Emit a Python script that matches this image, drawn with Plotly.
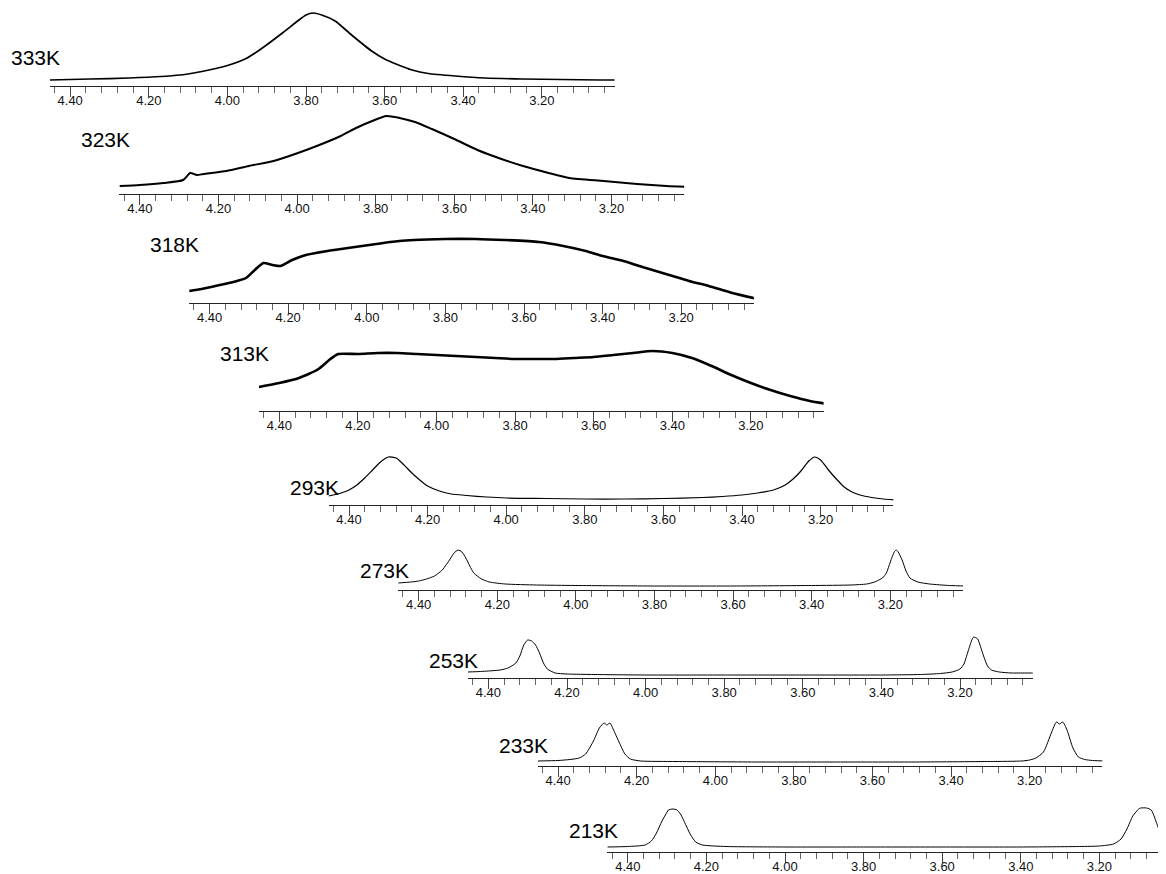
import plotly.graph_objects as go

# ---------------- data ----------------
temps = ["333K", "323K", "318K", "313K", "293K", "273K", "253K", "233K", "213K"]

ppm_333 = [4.452, 4.35, 4.25, 4.168, 4.10, 4.065, 4.004, 3.95, 3.911, 3.86, 3.818, 3.80, 3.782, 3.76,
           3.726, 3.684, 3.633, 3.60, 3.571, 3.53, 3.489, 3.42, 3.345, 3.25, 3.15, 3.05, 3.005]
int_333 = [6, 7, 8, 9.5, 12, 14.5, 20, 28, 38, 53, 66, 71, 73, 71,
           65, 51, 35, 27, 22, 16, 12.5, 10, 8, 7, 6.5, 6, 6]

ppm_323 = [4.452, 4.40, 4.34, 4.29, 4.272, 4.255, 4.238, 4.18, 4.123, 4.06, 4.005, 3.95, 3.889, 3.85,
           3.809, 3.773, 3.739, 3.70, 3.657, 3.60, 3.541, 3.48, 3.425, 3.36, 3.307, 3.22, 3.135, 3.06, 3.005]
int_323 = [8, 9, 11, 14, 21, 19, 20, 23, 28, 33, 40, 48, 58, 66,
           73, 78, 76, 72, 65, 55, 44, 35, 28, 21, 16, 13, 10, 8, 7]

ppm_318 = [4.452, 4.42, 4.374, 4.33, 4.307, 4.285, 4.263, 4.24, 4.22, 4.19, 4.155, 4.10, 4.048, 3.994, 3.94,
           3.88, 3.80, 3.724, 3.65, 3.562, 3.50, 3.443, 3.40, 3.347, 3.29, 3.239, 3.18, 3.13, 3.07, 3.005]
int_318 = [12, 14, 18, 22, 25, 33, 40, 38, 37, 43, 48, 52, 55, 58, 61,
           63, 64, 64, 63, 61, 57, 52, 47, 42, 35, 29, 22, 17, 10, 4]

ppm_313 = [4.452, 4.40, 4.35, 4.30, 4.27, 4.25, 4.20, 4.15, 4.10, 4.05, 4.00, 3.95, 3.90, 3.85, 3.80, 3.75,
           3.70, 3.65, 3.60, 3.55, 3.50, 3.45, 3.40, 3.35, 3.30, 3.25, 3.20, 3.15, 3.10, 3.05, 3.005]
int_313 = [24, 28, 33, 42, 52, 57, 57, 58, 58, 57, 56, 55, 54, 53, 52, 52,
           52, 53, 54, 56, 58, 60, 58, 53, 45, 36, 28, 21, 15, 10, 7]

ppm_293 = [4.452, 4.42, 4.40, 4.38, 4.36, 4.34, 4.32, 4.30, 4.28, 4.26, 4.24, 4.22, 4.20, 4.17, 4.14, 4.10,
           4.05, 4.00, 3.90, 3.80, 3.70, 3.60, 3.50, 3.45, 3.40, 3.36, 3.32, 3.29, 3.27, 3.25, 3.23, 3.215,
           3.20, 3.18, 3.16, 3.14, 3.12, 3.10, 3.07, 3.04, 3.005]
int_293 = [9, 12, 15, 20, 27, 35, 43, 48, 47, 40, 32, 25, 19, 14, 11, 9.5,
           8, 7, 6.5, 6, 6, 6.5, 7.5, 8.5, 10, 12, 15, 20, 26, 34, 44, 48,
           45, 35, 26, 18, 13, 10, 7.5, 6, 5]

ppm_273 = [4.452, 4.42, 4.40, 4.38, 4.36, 4.34, 4.32, 4.31, 4.30, 4.29, 4.28, 4.27, 4.26, 4.24, 4.22, 4.18,
           4.10, 4.00, 3.80, 3.60, 3.40, 3.30, 3.26, 3.24, 3.22, 3.21, 3.20, 3.19, 3.185, 3.18, 3.17, 3.16,
           3.15, 3.13, 3.10, 3.05, 3.005]
int_273 = [7, 8, 9, 11, 14, 20, 31, 37, 40, 38, 32, 24, 17, 11, 8, 6,
           5, 4.5, 4, 4, 4.5, 5, 6, 8, 12, 17, 28, 38, 40, 38, 30, 19,
           12, 8, 6, 4.5, 4]

ppm_253 = [4.452, 4.42, 4.40, 4.37, 4.35, 4.33, 4.32, 4.31, 4.30, 4.29, 4.28, 4.27, 4.26, 4.25, 4.23, 4.20,
           4.00, 3.80, 3.60, 3.40, 3.30, 3.25, 3.22, 3.20, 3.19, 3.18, 3.17, 3.165, 3.155, 3.15, 3.14, 3.13,
           3.12, 3.10, 3.07, 3.04, 3.005]
int_253 = [6, 6.5, 7, 8, 10, 15, 22, 33, 38, 37, 33, 25, 15, 9, 5, 4,
           3, 3, 3, 3, 3.5, 4.5, 6, 9, 14, 26, 38, 41, 39, 34, 22, 12,
           8, 6, 5, 5, 5]

ppm_233 = [4.452, 4.40, 4.37, 4.346, 4.33, 4.31, 4.295, 4.283, 4.276, 4.268, 4.26, 4.245, 4.23, 4.216, 4.19,
           4.10, 3.90, 3.70, 3.50, 3.30, 3.22, 3.20, 3.184, 3.165, 3.145, 3.132, 3.124, 3.116, 3.105, 3.09,
           3.076, 3.06, 3.04, 3.005]
int_233 = [5, 5.5, 6.5, 8, 12, 25, 38, 43, 41, 43, 37, 24, 12, 7, 5,
           4.5, 4, 4, 4, 4.5, 5, 6, 8, 14, 33, 44, 42, 44, 36, 18,
           9, 6.5, 5.5, 5]

ppm_213 = [4.452, 4.40, 4.356, 4.34, 4.327, 4.313, 4.30, 4.297, 4.285, 4.275, 4.266, 4.25, 4.24, 4.227,
           4.21, 4.15, 4.00, 3.80, 3.60, 3.40, 3.25, 3.20, 3.164, 3.145, 3.13, 3.115, 3.10, 3.095, 3.08,
           3.068, 3.06, 3.048, 3.035, 3.025]
int_213 = [5, 5.5, 7, 11, 19, 31, 40, 42, 43, 42, 38, 25, 17, 10,
           7, 5.5, 5, 5, 5, 5, 5.5, 6, 8, 13, 23, 36, 43, 44, 44,
           42, 35, 22, 12, 8]

spectra_ppm = [ppm_333, ppm_323, ppm_318, ppm_313, ppm_293, ppm_273, ppm_253, ppm_233, ppm_213]
spectra_int = [int_333, int_323, int_318, int_313, int_293, int_273, int_253, int_233, int_213]

major_ticks = [4.40, 4.20, 4.00, 3.80, 3.60, 3.40, 3.20]
major_labels = ["4.40", "4.20", "4.00", "3.80", "3.60", "3.40", "3.20"]
minor_ticks = [4.44, 4.36, 4.32, 4.28, 4.24, 4.16, 4.12, 4.08, 4.04, 3.96, 3.92, 3.88, 3.84,
               3.76, 3.72, 3.68, 3.64, 3.56, 3.52, 3.48, 3.44, 3.36, 3.32, 3.28, 3.24,
               3.16, 3.12, 3.08, 3.04]

# ---------------- layout geometry (pixels, figure coordinates) ----------------
# the page body adds an 8 px margin, so the figure is 8 px smaller on each side
W, H = 1158, 866
PX_PER_PPM = 393.0
PPM_LEFT, PPM_RIGHT = 4.452, 3.015
X380_0, DX = 298.0, 69.7            # x of the 3.80 tick for the first panel, shift per panel
axis_y_px = [78, 186, 295, 403, 497, 582, 670, 758, 844]
label_right_px = [54 + 69.7 * i for i in range(9)]
label_y_px = [49, 131, 236, 345, 479, 562, 652, 737, 822]
line_widths = [1.7, 2.0, 2.6, 2.6, 1.2, 1.0, 1.0, 1.0, 1.0]
PANEL_H = 100

fig = go.Figure()
annotations = []
for i, name in enumerate(temps):
    x380 = X380_0 + DX * i
    left = x380 - (PPM_LEFT - 3.80) * PX_PER_PPM
    right = x380 + (3.80 - PPM_RIGHT) * PX_PER_PPM
    r_end = PPM_RIGHT
    if right > W:
        r_end = PPM_LEFT - (W - left) / PX_PER_PPM
        right = W
    bottom = (H - axis_y_px[i]) / H
    top = min(1.0, (H - axis_y_px[i] + PANEL_H) / H)
    yr_top = (top - bottom) * H
    sfx = "" if i == 0 else str(i + 1)
    fig.add_trace(go.Scatter(
        x=spectra_ppm[i], y=spectra_int[i], mode="lines",
        line=dict(color="black", width=line_widths[i], shape="spline", smoothing=0.6),
        xaxis="x" + sfx, yaxis="y" + sfx, showlegend=False, hoverinfo="skip"))
    fig.layout["xaxis" + sfx] = dict(
        domain=[left / W, right / W], anchor="y" + sfx, range=[PPM_LEFT, r_end],
        showline=True, linecolor="#222", linewidth=1, showgrid=False, zeroline=False,
        tickmode="array", tickvals=major_ticks, ticktext=major_labels,
        ticks="outside", ticklen=10, tickwidth=1, tickcolor="#444",
        ticklabelstandoff=-8,
        minor=dict(tickmode="array", tickvals=minor_ticks, ticks="outside",
                   ticklen=6, tickwidth=1, tickcolor="#666"),
        tickfont=dict(family="Liberation Sans, Arial", size=13, color="#111"),
        fixedrange=True)
    fig.layout["yaxis" + sfx] = dict(
        domain=[bottom, top], anchor="x" + sfx, range=[0, yr_top],
        visible=False, fixedrange=True)
    annotations.append(dict(
        text=name, xref="paper", yref="paper",
        x=label_right_px[i] / W, y=(H - label_y_px[i]) / H,
        xanchor="right", yanchor="middle", showarrow=False,
        font=dict(family="Liberation Sans, Arial", size=21, color="black")))

fig.update_layout(
    width=W, height=H, margin=dict(l=0, r=0, t=0, b=0),
    paper_bgcolor="white", plot_bgcolor="rgba(0,0,0,0)",
    annotations=annotations, showlegend=False)

fig.write_html("out.html")
